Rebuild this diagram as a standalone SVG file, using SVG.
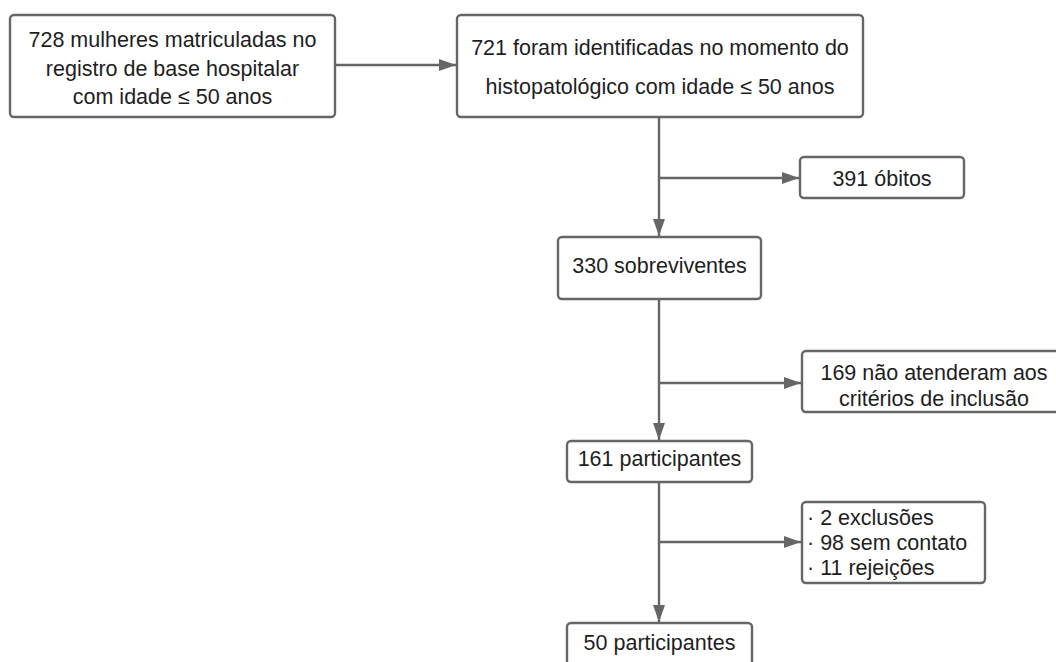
<svg xmlns="http://www.w3.org/2000/svg" width="1056" height="662" viewBox="0 0 1056 662">
<style>
.box{fill:#fff;stroke:#666;stroke-width:2.4}
.t{font-family:"Liberation Sans",Arial,sans-serif;font-size:21.5px;fill:#1e1e1e}
.c{text-anchor:middle}
.ln{fill:none;stroke:#666;stroke-width:2.4}
</style>
<defs>
<marker id="ah" viewBox="0 0 17 12" refX="17" refY="6" markerWidth="17" markerHeight="12" markerUnits="userSpaceOnUse" orient="auto">
<path d="M0,0 L17,6 L0,12 Z" fill="#666"/>
</marker>
</defs>
<rect width="1056" height="662" fill="#fff"/>
<g id="connectors">
<line class="ln" x1="336" y1="65" x2="456" y2="65" marker-end="url(#ah)"/>
<line class="ln" x1="659" y1="117" x2="659" y2="236" marker-end="url(#ah)"/>
<line class="ln" x1="659" y1="178" x2="799" y2="178" marker-end="url(#ah)"/>
<line class="ln" x1="659" y1="299" x2="659" y2="440" marker-end="url(#ah)"/>
<line class="ln" x1="659" y1="383" x2="801" y2="383" marker-end="url(#ah)"/>
<line class="ln" x1="659" y1="482" x2="659" y2="622" marker-end="url(#ah)"/>
<line class="ln" x1="659" y1="542" x2="801" y2="542" marker-end="url(#ah)"/>
</g>
<g id="n728">
<rect class="box" x="10" y="15" width="325" height="102" rx="4"/>
<text class="t c" x="172.5" y="47">728 mulheres matriculadas no</text>
<text class="t c" x="172.5" y="76">registro de base hospitalar</text>
<text class="t c" x="172.5" y="104">com idade ≤ 50 anos</text>
</g>
<g id="n721">
<rect class="box" x="457" y="15" width="406" height="102" rx="4"/>
<text class="t c" x="660" y="55">721 foram identificadas no momento do</text>
<text class="t c" x="660" y="94">histopatológico com idade ≤ 50 anos</text>
</g>
<g id="n391">
<rect class="box" x="800" y="157" width="164" height="41" rx="4"/>
<text class="t c" x="882" y="186">391 óbitos</text>
</g>
<g id="n330">
<rect class="box" x="558" y="237" width="203" height="62" rx="4"/>
<text class="t c" x="659.5" y="273">330 sobreviventes</text>
</g>
<g id="n169">
<rect class="box" x="802" y="351" width="266" height="61" rx="4"/>
<text class="t c" x="934" y="380">169 não atenderam aos</text>
<text class="t c" x="934" y="406">critérios de inclusão</text>
</g>
<g id="n161">
<rect class="box" x="567" y="441" width="185" height="41" rx="4"/>
<text class="t c" x="659.5" y="466">161 participantes</text>
</g>
<g id="nlist">
<rect class="box" x="802" y="502" width="183" height="81" rx="4"/>
<text class="t" x="807" y="525">· 2 exclusões</text>
<text class="t" x="807" y="550">· 98 sem contato</text>
<text class="t" x="807" y="575">· 11 rejeições</text>
</g>
<g id="n50">
<rect class="box" x="567" y="623" width="185" height="44" rx="4"/>
<text class="t c" x="659.5" y="650">50 participantes</text>
</g>
</svg>
